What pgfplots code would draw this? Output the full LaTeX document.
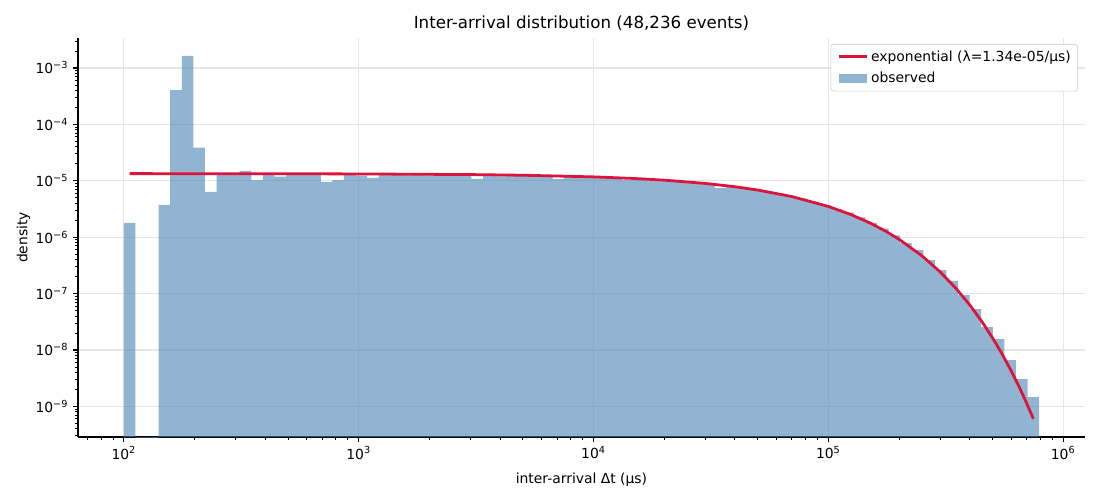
\documentclass[border=0pt]{standalone}
\usepackage{pgfplots}
\pgfplotsset{compat=1.18}
\usepackage{fontspec}
\setmainfont{DejaVu Sans}
\definecolor{barblue}{RGB}{70,130,180}
\definecolor{fitred}{RGB}{220,20,60}
\definecolor{gridgray}{RGB}{230,230,230}
\definecolor{legframe}{RGB}{204,204,204}
\pgfplotsset{
  shortline legend/.style={legend image code/.code={\path[draw=none,fill=none] (0pt,0pt) -- (3pt,0pt); \draw[##1, sharp corners] (3pt,0pt) -- (23pt,0pt);}},
  rect legend/.style={legend image code/.code={\path[draw=none,fill=none] (0pt,0pt) -- (3pt,0pt); \fill[##1, draw=none, sharp corners] (3pt,-3.5pt) rectangle (23pt,3.5pt);}},
}

\pgfplotstableread{
x y
100 1.80e-6
112.03 1e-20
125.51 1e-20
140.61 3.75e-6
157.53 4.06e-4
176.49 1.63e-3
197.72 3.85e-5
221.51 6.38e-6
248.16 1.31e-5
278.02 1.31e-5
311.47 1.49e-5
348.95 1.03e-5
390.93 1.26e-5
437.97 1.18e-5
490.67 1.31e-5
549.71 1.31e-5
615.85 1.31e-5
689.95 9.6e-6
772.96 1.03e-5
865.97 1.31e-5
970.16 1.23e-5
1086.9 1.12e-5
1217.7 1.31e-5
1364.2 1.31e-5
1528.3 1.25e-5
1712.2 1.28e-5
1918.2 1.25e-5
2149.0 1.28e-5
2407.6 1.25e-5
2697.2 1.25e-5
3021.8 1.08e-5
3385.4 1.25e-5
3792.7 1.20e-5
4249.0 1.25e-5
4760.2 1.25e-5
5333.0 1.20e-5
5974.7 1.23e-5
6693.5 1.08e-5
7498.9 1.18e-5
8401.2 1.18e-5
9411.9 1.15e-5
10544 1.15e-5
11813 1.08e-5
13234 1.04e-5
14827 1.04e-5
16611 1.02e-5
18609 1.02e-5
20848 9.76e-6
23357 9.23e-6
26167 8.85e-6
29315 8.7e-6
32843 7.5e-6
36794 7.83e-6
41221 7.13e-6
46182 6.84e-6
51738 6.38e-6
57963 5.89e-6
64937 5.36e-6
72750 4.80e-6
81504 4.25e-6
91311 3.71e-6
102297 3.15e-6
114609 2.71e-6
128397 2.24e-6
143842 1.80e-6
161151 1.41e-6
180539 1.08e-6
202262 7.86e-7
226601 5.90e-7
253858 3.93e-7
284409 2.61e-7
318631 1.67e-7
356965 9.4e-8
399912 5.3e-8
448025 2.55e-8
501937 1.56e-8
562334 6.6e-9
629986 3.05e-9
705790 1.46e-9
790718 1.46e-9
}\histdata

\pgfplotstableread{
x y
105.8 1.338e-5
300 1.3346e-5
1000 1.322e-5
3000 1.287e-5
5000 1.253e-5
10000 1.172e-5
15000 1.096e-5
20000 1.025e-5
30000 8.965e-6
40000 7.84e-6
50000 6.857e-6
70000 5.245e-6
100000 3.508e-6
125000 2.51e-6
150000 1.796e-6
175000 1.284e-6
200000 9.19e-7
250000 4.70e-7
300000 2.405e-7
350000 1.231e-7
400000 6.30e-8
450000 3.223e-8
500000 1.649e-8
550000 8.44e-9
600000 4.32e-9
650000 2.21e-9
700000 1.131e-9
747050 6.02e-10
}\fitdata

\begin{document}
\begin{tikzpicture}
\useasboundingbox (-56.16pt,-45.36pt) rectangle (735.84pt,314.64pt);
\begin{axis}[
  at={(0,0)}, anchor=south west,
  width=725pt, height=287.3pt, scale only axis,
  xmode=log, ymode=log, log origin y=infty,
  xmin=63.8, xmax=1.239e6, ymin=2.86e-10, ymax=3.4e-3,
  axis x line*=bottom, axis y line*=left,
  axis line style={line width=0.8pt, -},
  tick align=outside,
  major tick length=3.5pt, minor tick length=2pt,
  every major tick/.append style={line width=0.8pt, black},
  every minor tick/.append style={line width=0.6pt, black},
  xtick={1e2,1e3,1e4,1e5,1e6},
  xticklabels={10\textsuperscript{2},10\textsuperscript{3},10\textsuperscript{4},10\textsuperscript{5},10\textsuperscript{6}},
  minor xtick={70,80,90,200,300,400,500,600,700,800,900,2000,3000,4000,5000,6000,7000,8000,9000,20000,30000,40000,50000,60000,70000,80000,90000,200000,300000,400000,500000,600000,700000,800000,900000},
  ytick={1e-9,1e-8,1e-7,1e-6,1e-5,1e-4,1e-3},
  yticklabels={10\textsuperscript{−9},10\textsuperscript{−8},10\textsuperscript{−7},10\textsuperscript{−6},10\textsuperscript{−5},10\textsuperscript{−4},10\textsuperscript{−3}},
  minor ytick={3e-10,4e-10,5e-10,6e-10,7e-10,8e-10,9e-10,2e-9,3e-9,4e-9,5e-9,6e-9,7e-9,8e-9,9e-9,2e-8,3e-8,4e-8,5e-8,6e-8,7e-8,8e-8,9e-8,2e-7,3e-7,4e-7,5e-7,6e-7,7e-7,8e-7,9e-7,2e-6,3e-6,4e-6,5e-6,6e-6,7e-6,8e-6,9e-6,2e-5,3e-5,4e-5,5e-5,6e-5,7e-5,8e-5,9e-5,2e-4,3e-4,4e-4,5e-4,6e-4,7e-4,8e-4,9e-4,2e-3,3e-3},
  grid=major,
  major grid style={gridgray, line width=0.8pt},
  tick label style={font=\fontsize{10}{12}\selectfont},
  label style={font=\fontsize{10}{12}\selectfont},
  xlabel style={yshift=-3pt},
  ylabel style={yshift=-3pt},
  title style={font=\fontsize{12}{14}\selectfont, yshift=-4pt},
  title={Inter-arrival distribution (48,236 events)},
  xlabel={inter-arrival Δt (μs)},
  ylabel={density},
  legend style={at={(1,1)}, anchor=north east, xshift=-5pt, yshift=-4.3pt,
    draw=legframe, rounded corners=2pt, font=\fontsize{10}{12}\selectfont,
    inner xsep=3pt, inner ysep=2.5pt, row sep=2.5pt},
  legend cell align=left,
]
\addplot[ybar interval, fill=barblue, fill opacity=0.6, draw=none, forget plot] table[x=x,y=y] {\histdata};
\addplot[fitred, line width=2pt, shortline legend] table[x=x,y=y] {\fitdata};
\addlegendentry{exponential (λ=1.34e-05/μs)}
\addlegendimage{rect legend, barblue, fill opacity=0.6}
\addlegendentry{observed}
\end{axis}
\end{tikzpicture}
\end{document}
